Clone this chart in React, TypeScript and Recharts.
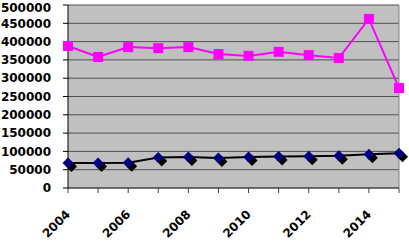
import { CartesianGrid, Line, LineChart, ReferenceLine, XAxis, YAxis } from "recharts";

const YEARS = [2004, 2005, 2006, 2007, 2008, 2009, 2010, 2011, 2012, 2013, 2014, 2015];
const PINK = [388000, 358000, 385000, 382000, 385000, 366000, 361000, 372000, 363000, 355000, 462000, 273000];
const DARK = [68000, 68000, 69000, 83000, 85000, 82000, 85000, 86000, 87000, 88000, 92000, 95000];
const Y_TICKS = [0, 50000, 100000, 150000, 200000, 250000, 300000, 350000, 400000, 450000, 500000];

const data = YEARS.map((year, i) => ({ year, pink: PINK[i], dark: DARK[i] }));

const FONT = "'DejaVu Sans', Verdana, sans-serif";

function SquareDot(props: any) {
  const { cx, cy } = props;
  if (cx == null || cy == null) return null;
  return <rect x={cx - 5} y={cy - 5} width={10} height={10} fill="#ff00ff" />;
}

function DiamondDot(props: any) {
  const { cx, cy } = props;
  if (cx == null || cy == null) return null;
  const d = (x: number, y: number) => `M${x},${y - 5.5}L${x + 5.5},${y}L${x},${y + 5.5}L${x - 5.5},${y}Z`;
  return (
    <g>
      <path d={d(cx + 3.5, cy + 3.5)} fill="#000000" />
      <path d={d(cx, cy)} fill="#000080" />
    </g>
  );
}

function YearTick(props: any) {
  const { x, y, payload, index } = props;
  if (index % 2 !== 0) return null;
  return (
    <g transform={`translate(${x + 3},${y + 20})`}>
      <text
        x={0}
        y={0}
        textAnchor="end"
        transform="rotate(-45)"
        fontFamily={FONT}
        fontWeight="bold"
        fontSize={12}
        fill="#000"
      >
        {payload.value}
      </text>
    </g>
  );
}

function ValueTick(props: any) {
  const { x, y, payload } = props;
  // keep the top label inside the picture
  const ty = Math.max(y, 8);
  return (
    <text
      x={x}
      y={ty}
      dy="0.355em"
      textAnchor="end"
      fontFamily={FONT}
      fontWeight="bold"
      fontSize={12}
      fill="#000"
    >
      {payload.value}
    </text>
  );
}

export default function App() {
  return (
    <div style={{ position: "absolute", left: 0, top: 0, background: "#fff" }}>
      <LineChart width={409} height={241} data={data} margin={{ top: 5, right: 10, left: 0, bottom: 0 }}>
        <CartesianGrid vertical={false} fill="#c0c0c0" stroke="#505050" strokeOpacity={1} />
        <XAxis
          dataKey="year"
          height={53}
          interval={0}
          tick={<YearTick />}
          tickSize={5}
          axisLine={{ stroke: "#404040" }}
          tickLine={{ stroke: "#404040" }}
        />
        <YAxis
          domain={[0, 500000]}
          ticks={Y_TICKS}
          interval={0}
          width={68}
          tickSize={5}
          tickMargin={12}
          axisLine={{ stroke: "#000" }}
          tickLine={{ stroke: "#000" }}
          tick={<ValueTick />}
        />
        <ReferenceLine x={2015} stroke="#808080" />
        <Line
          dataKey="dark"
          stroke="#000"
          strokeWidth={2}
          dot={<DiamondDot />}
          isAnimationActive={false}
        />
        <Line
          dataKey="pink"
          stroke="#ff00ff"
          strokeWidth={2}
          dot={<SquareDot />}
          isAnimationActive={false}
        />
      </LineChart>
    </div>
  );
}
